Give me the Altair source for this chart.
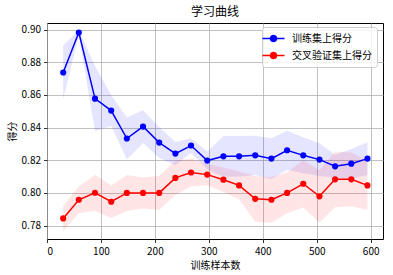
import altair as alt
import pandas as pd

# ---- data ----
sizes = [30, 59, 89, 119, 148, 178, 208, 238, 267, 297,
         327, 356, 386, 416, 445, 475, 505, 534, 564, 594]
train_mean = [0.8737, 0.8982, 0.8577, 0.8504, 0.8333, 0.8406, 0.8308, 0.8241, 0.8290, 0.8198,
              0.8224, 0.8224, 0.8230, 0.8210, 0.8261, 0.8230, 0.8204, 0.8163, 0.8179, 0.8210]
train_std = [0.0165, 0.0015, 0.0200, 0.0095, 0.0128, 0.0100, 0.0095, 0.0071, 0.0045, 0.0055,
             0.0125, 0.0125, 0.0120, 0.0125, 0.0120, 0.0110, 0.0100, 0.0070, 0.0090, 0.0100]
test_mean = [0.7844, 0.7958, 0.8001, 0.7946, 0.8000, 0.8000, 0.8000, 0.8092, 0.8125, 0.8112,
             0.8081, 0.8046, 0.7964, 0.7958, 0.8000, 0.8056, 0.7979, 0.8083, 0.8083, 0.8046]
test_std = [0.0077, 0.0082, 0.0110, 0.0100, 0.0110, 0.0095, 0.0105, 0.0105, 0.0085, 0.0065,
            0.0075, 0.0085, 0.0140, 0.0140, 0.0125, 0.0145, 0.0160, 0.0170, 0.0165, 0.0150]

series = ["训练集上得分", "交叉验证集上得分"]
colors = ["#0000ff", "#ff0000"]
x_ticks = [0, 100, 200, 300, 400, 500, 600]
y_ticks = [0.78, 0.80, 0.82, 0.84, 0.86, 0.88, 0.90]

rows = []
for name, means, stds in ((series[0], train_mean, train_std), (series[1], test_mean, test_std)):
    for s, m, d in zip(sizes, means, stds):
        rows.append({"size": s, "score": m, "lo": m - d, "hi": m + d, "series": name})
df = pd.DataFrame(rows)

FONT = "Noto Sans CJK SC"

color_scale = alt.Scale(domain=series, range=colors)
x_enc = alt.X("size:Q", scale=alt.Scale(domain=[0, 622.8], nice=False),
              axis=alt.Axis(values=x_ticks, title="训练样本数", format="d"))
y_scale = alt.Scale(domain=[0.7718, 0.904], nice=False, zero=False)
y_axis = alt.Axis(values=y_ticks, title="得分", format=".2f")

legend_path = ("M-2,0L2,0"
               "M0.55,0A0.55,0.55,0,1,1,-0.55,0A0.55,0.55,0,1,1,0.55,0"
               "M0.32,0A0.32,0.32,0,1,1,-0.32,0A0.32,0.32,0,1,1,0.32,0"
               "M0.1,0A0.1,0.1,0,1,1,-0.1,0A0.1,0.1,0,1,1,0.1,0")

base = alt.Chart(df)

band = base.mark_area(opacity=0.1).encode(
    x=x_enc,
    y=alt.Y("lo:Q", scale=y_scale, axis=y_axis),
    y2="hi:Q",
    color=alt.Color("series:N", scale=color_scale, legend=None),
)

line = base.mark_line(strokeWidth=1.5).encode(
    x=x_enc,
    y=alt.Y("score:Q", scale=y_scale, axis=y_axis),
    color=alt.Color("series:N", scale=color_scale, sort=series,
                    legend=alt.Legend(orient="none", legendX=215, legendY=4, title=None,
                                      symbolType=legend_path, symbolSize=121,
                                      symbolStrokeWidth=1.5, labelOffset=12,
                                      labelFont=FONT, labelFontSize=10, labelColor="black",
                                      padding=5, rowPadding=4,
                                      strokeColor="#cccccc", fillColor="rgba(255,255,255,0.8)",
                                      cornerRadius=3)),
)

pts = base.mark_circle(size=38, opacity=1).encode(
    x=x_enc,
    y=alt.Y("score:Q", scale=y_scale, axis=y_axis),
    color=alt.Color("series:N", scale=color_scale, legend=None),
)

chart = alt.layer(band, line, pts).resolve_legend(color="independent").properties(
    width=336, height=216,
    title=alt.TitleParams("学习曲线", font=FONT, fontSize=12, fontWeight="normal",
                          color="black", offset=4),
    autosize=alt.AutoSizeParams(type="none"),
    padding={"left": 47, "top": 23, "right": 10, "bottom": 36},
).configure_view(
    stroke="black", strokeWidth=1
).configure_axis(
    domain=False,
    grid=True, gridColor="#b0b0b0", gridWidth=0.8, gridOpacity=1,
    tickColor="black", tickSize=3.5, tickWidth=0.8,
    labelFont=FONT, labelFontSize=10, labelColor="black",
    titleFont=FONT, titleFontSize=10, titleColor="black", titleFontWeight="normal",
).configure_axisY(
    titlePadding=4, labelPadding=3
).configure_axisX(
    labelPadding=4, titlePadding=4
)

chart.save("out.html", embed_options={"renderer": "svg", "actions": False})
